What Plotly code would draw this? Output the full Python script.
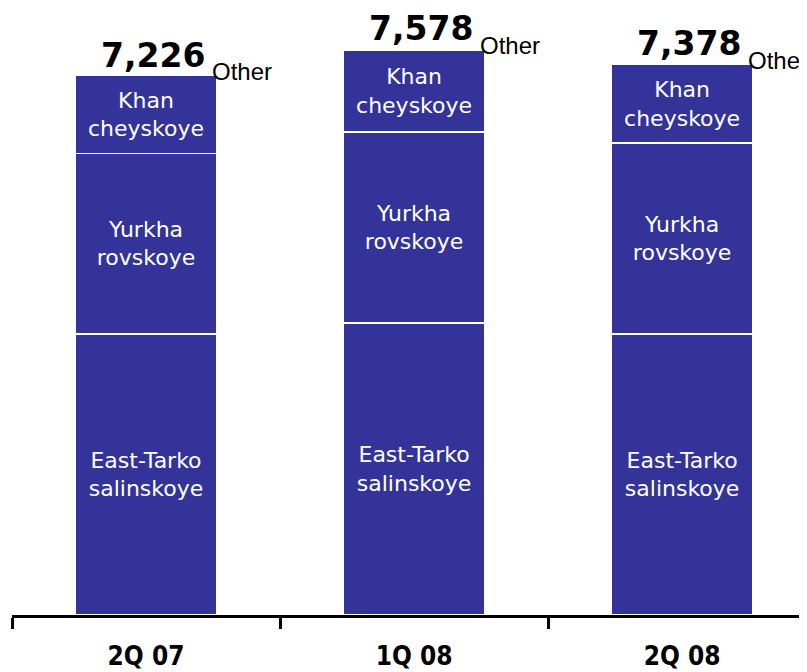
import plotly.graph_objects as go

categories = ["2Q 07", "1Q 08", "2Q 08"]
east_tarko = [3760, 3903, 3757]
yurkha = [2409, 2553, 2554]
khan = [1044, 1096, 1050]
other = [13, 26, 17]
totals = [7226, 7578, 7378]
total_labels = ["7,226", "7,578", "7,378"]

series_names = ["East-Tarkosalinskoye", "Yurkharovskoye", "Khancheyskoye", "Other"]
segment_labels = ["East-Tarko<br>salinskoye", "Yurkha<br>rovskoye", "Khan<br>cheyskoye", ""]
series_values = [east_tarko, yurkha, khan, other]

BAR_COLOR = "#333399"
BAR_WIDTH = 0.526

fig = go.Figure()
for name, vals, lab in zip(series_names, series_values, segment_labels):
    fig.add_trace(go.Bar(
        x=categories, y=vals, name=name,
        marker=dict(color=BAR_COLOR, line=dict(color="#ffffff", width=1.5)),
        text=[lab] * len(vals) if lab else None,
        textposition="inside" if lab else "none",
        insidetextanchor="middle",
        textangle=0,
        textfont=dict(family="DejaVu Sans", size=22, color="white"),
        constraintext="none",
        width=BAR_WIDTH,
        hoverinfo="skip",
    ))

annotations = []
for i, (t, tl) in enumerate(zip(totals, total_labels)):
    annotations.append(dict(
        x=i, y=t, xref="x", yref="y", text=tl, showarrow=False,
        xanchor="center", yanchor="bottom", xshift=7, yshift=-2,
        font=dict(family="DejaVu Sans", size=33, color="black", weight="bold"),
    ))
    annotations.append(dict(
        x=i + BAR_WIDTH / 2, y=t, xref="x", yref="y", text="Other", showarrow=False,
        xanchor="left", yanchor="middle", xshift=-7, yshift=3,
        font=dict(family="Liberation Sans, Arial", size=24, color="black"),
    ))

fig.update_layout(
    barmode="stack",
    width=807, height=672,
    margin=dict(l=4, r=8, t=0, b=65, autoexpand=False),
    paper_bgcolor="white", plot_bgcolor="white",
    showlegend=False,
    annotations=annotations,
    xaxis=dict(
        type="category",
        range=[-0.5, 2.466],
        showline=True, linecolor="black", linewidth=3,
        ticks="outside", tickson="boundaries", ticklen=11, tickwidth=3, tickcolor="black",
        ticklabelstandoff=16,
        tickfont=dict(family="DejaVu Sans Condensed, Roboto", size=26, color="black", weight="bold"),
        showgrid=False, zeroline=False, automargin=False,
    ),
    yaxis=dict(
        range=[0, 8116], visible=False, showgrid=False, zeroline=False,
    ),
)

fig.write_html("out.html")
